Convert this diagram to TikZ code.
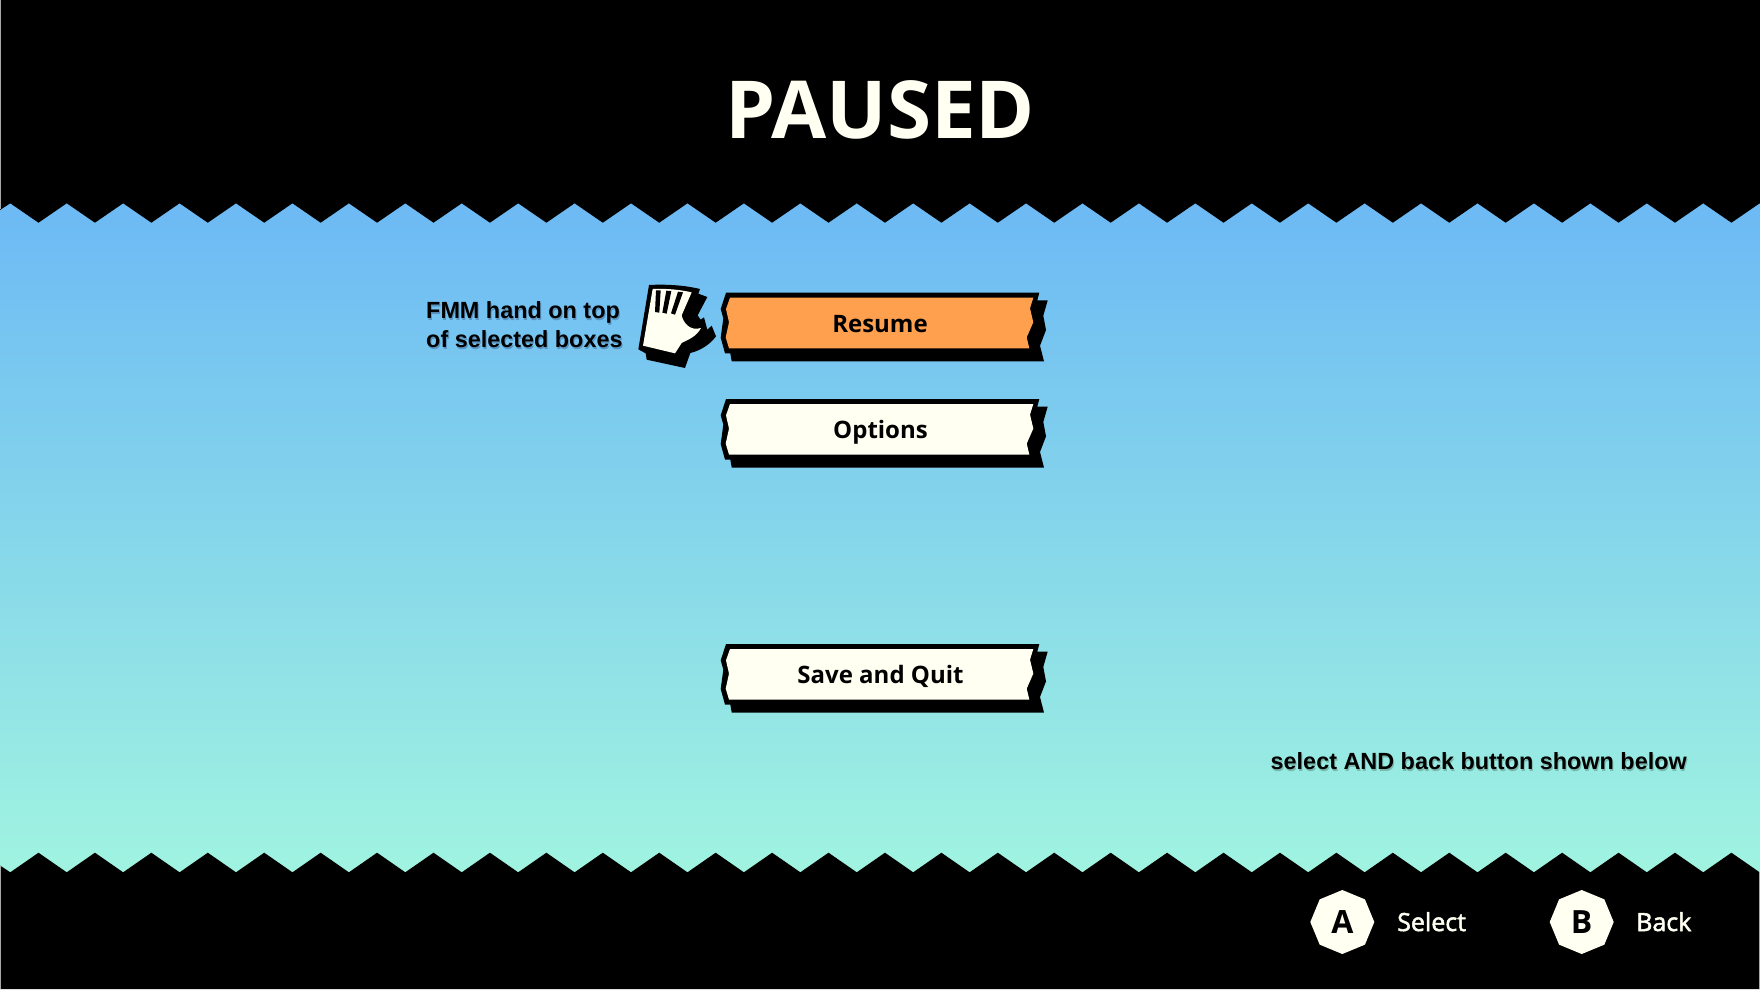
\documentclass[tikz,border=0pt]{standalone}
\usepackage{fontspec}
\usetikzlibrary{shapes.geometric}
\setmainfont{Open Sans}
\newfontfamily\notefont{Liberation Sans}
\newfontfamily\hintfont[FakeBold=2]{Open Sans}
\definecolor{cream}{HTML}{FFFFF2}
\definecolor{skytop}{HTML}{6CB9F5}
\definecolor{seabot}{HTML}{A0F4E0}
\definecolor{orangefill}{HTML}{FFA04F}
\definecolor{edgegray}{HTML}{A8A8A8}
\definecolor{noteshadeup}{HTML}{5A94C0}
\definecolor{noteshadelow}{HTML}{7AB8AE}
\newcommand{\softdrop}[2]{\rlap{\hspace{1pt}\raisebox{-2pt}{\textcolor{#1}{#2}}}#2}
\tikzset{
  x=1pt,y=-1pt,
  buttonlabel/.style={anchor=base,inner sep=0pt,text=black,font=\fontsize{24}{24}\selectfont\bfseries},
  note/.style={anchor=base west,inner sep=0pt,text=black,font=\notefont\fontsize{23.4}{23.4}\selectfont\bfseries},
  hint/.style={anchor=base west,inner sep=0pt,text=cream,font=\hintfont\fontsize{25}{25}\selectfont},
  keycap/.style={regular polygon,regular polygon sides=8,shape border rotate=22.5,fill=cream,draw=none,inner sep=0pt,minimum size=64pt,text=black,font=\fontsize{32}{32}\selectfont\bfseries},
  titletext/.style={anchor=base,inner sep=0pt,text=cream,font=\fontsize{80}{80}\selectfont\bfseries},
  pics/menubutton/.style={code={
    \fill[black] (6,0) -- (0.7,16.3) -- (3.3,25.6) -- (0.7,45) -- (5,60.6) -- (10.3,60.6) -- (11.7,68.6)
      -- (324,68.6) -- (320,53) -- (326,37.3) -- (323.3,23) -- (327.7,7.6) -- (317.3,7.6) -- (319.3,0) -- cycle;
    \fill[#1] (10,5) -- (6,16.3) -- (9,29.6) -- (5.7,44.6) -- (9,55.6) -- (309.3,55.6) -- (306.7,44.6)
      -- (313.3,29.6) -- (310,15.6) -- (313.3,5) -- cycle;
  }}
}
\begin{document}
\begin{tikzpicture}
\useasboundingbox (0,0) rectangle (1760,989);
\clip (0,0) rectangle (1760,989);
\shade[top color=skytop,bottom color=seabot] (0,200) rectangle (1760,875);
% top and bottom jagged bands
\fill[black] (0,0) -- (0,210) \foreach \i in {0,...,31}{ -- ({10.3+56.43*\i},203.3) -- ({38.5+56.43*\i},222.7)} -- (1790,223) -- (1790,0) -- cycle;
\fill[black] (0,989) -- (0,865.5) \foreach \i in {0,...,31}{ -- ({10.3+56.43*\i},872.3) -- ({38.5+56.43*\i},852.7)} -- (1790,853) -- (1790,989) -- cycle;
\fill[edgegray] (0,0) rectangle (1,209);
\fill[edgegray] (0,866) rectangle (1,989);
\fill[edgegray] (1759,872) rectangle (1760,989);
% title
\node[titletext] (title) at (880,138) {PAUSED};
% buttons
\pic at (720,292.7) {menubutton=orangefill};
\pic at (720,399) {menubutton=cream};
\pic at (720,644) {menubutton=cream};
\node[buttonlabel] (resume) at (880,332) {Resume};
\node[buttonlabel] (options) at (880.5,438.3) {Options};
\node[buttonlabel] (savequit) at (880.5,683.3) {Save and Quit};
% hand
\begin{scope}[shift={(630,278)},x=0.3333pt,y=-0.3333pt]
\fill[black] (57,21) .. controls (110,18) and (165,22) .. (210,33) -- (205,47) -- (232,57) -- (203,112) -- (212,125) -- (222,118) -- (232,155) -- (245,143) -- (258,175)
  .. controls (240,200) and (210,218) .. (181,225) -- (165,270) -- (50,245) -- (47,226) -- (25,214) -- cycle;
\fill[cream] (68,33) .. controls (110,31) and (150,35) .. (185,43) -- (155,112) .. controls (160,135) and (180,160) .. (213,150)
  .. controls (200,175) and (175,185) .. (155,195) -- (135,226) -- (39,203) -- cycle;
\fill[black] (78,37) -- (92,37) -- (88,104) -- (75,102) -- cycle;
\fill[black] (109,38) -- (124,39) -- (110,107) -- (97,104) -- cycle;
\fill[black] (144,41) -- (159,43) -- (135,110) -- (123,106) -- cycle;
\end{scope}
% annotations
\node[note] (noteone) at (426,318) {\softdrop{noteshadeup}{FMM hand on top}};
\node[note] (notetwo) at (426,347) {\softdrop{noteshadeup}{of selected boxes}};
\node[note] (notethree) at (1270.5,769) {\softdrop{noteshadelow}{select AND back button shown below}};
% footer hints
\node[keycap] (keya) at (1342.3,922) {\raisebox{-2pt}{A}};
\node[keycap] (keyb) at (1581.7,922) {\raisebox{-2pt}{B}};
\node[hint] (hinta) at (1397,931) {Select};
\node[hint] (hintb) at (1636,931) {Back};
\end{tikzpicture}
\end{document}
